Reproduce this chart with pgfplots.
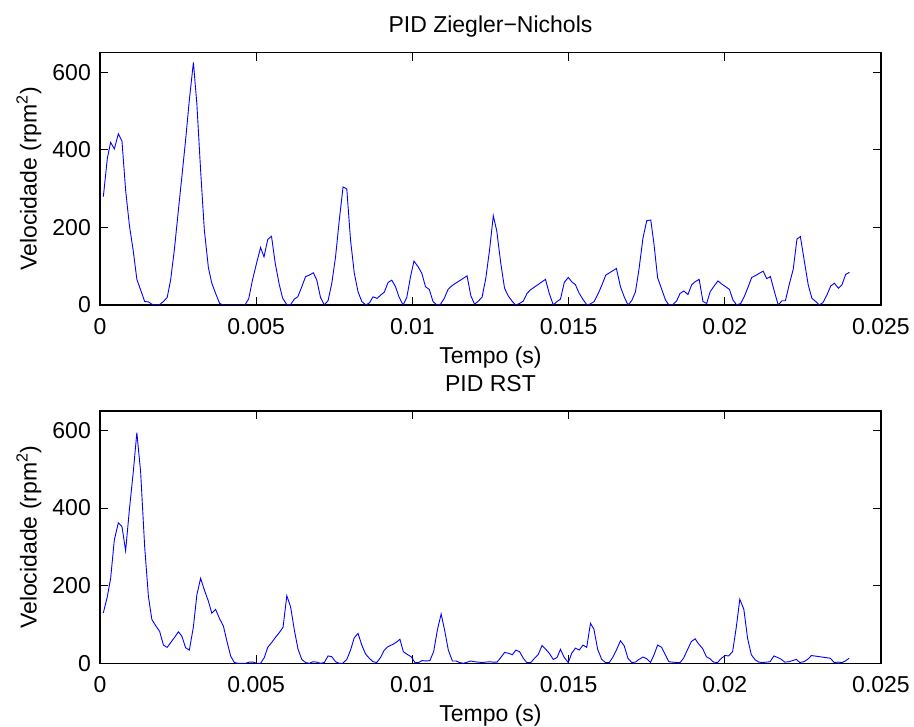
\documentclass[border=0pt]{standalone}
\usepackage{pgfplots}
\pgfplotsset{compat=1.18}
\usepackage{fontspec}
\setmainfont{Liberation Sans}
\newcommand{\bigf}{\fontsize{23}{27}\selectfont}
\pgfplotsset{
  mystyle/.style={
    scale only axis,
    width=781pt, height=252.3pt,
    xmin=0, xmax=0.025, ymin=0, ymax=650,
    scaled x ticks=false, scaled y ticks=false,
    xtick={0,0.005,0.01,0.015,0.02,0.025},
    xticklabels={0,0.005,0.01,0.015,0.02,0.025},
    ytick={0,200,400,600},
    yticklabels={0,200,400,600},
    tick align=inside,
    major tick length=8pt,
    tick style={black, line width=0.9pt},
    axis line style={black, line width=1.1pt},
    every tick label/.append style={font=\bigf, inner sep=0pt},
    xticklabel style={anchor=north, yshift=-13pt},
    yticklabel style={anchor=east, xshift=-9pt},
    /pgf/number format/assume math mode=true,
    every axis x label/.style={at={(axis description cs:0.5,0)}, anchor=base, yshift=-58.3pt, font=\bigf},
    every axis y label/.style={at={(axis description cs:-0.091,0.5)}, anchor=center, rotate=90, font=\bigf},
    every axis title/.style={at={(axis description cs:0.5,1)}, anchor=base, yshift=19.7pt, font=\bigf},
    xlabel={Tempo (s)},
    ylabel={Velocidade (rpm\textsuperscript{2})},
  }
}
\begin{document}
\begin{tikzpicture}[x=1pt,y=1pt]
\useasboundingbox (0,0) rectangle (914,727);
\begin{axis}[mystyle, at={(100pt,422pt)}, anchor=south west, title={PID Ziegler\textminus Nichols}]
\addplot[blue, line width=0.9pt] coordinates {
(0.000107,279) (0.000235,378) (0.000341,419) (0.000459,402) (0.000587,441) (0.000704,422)
(0.00082,296) (0.00094,206) (0.00106,142) (0.00118,66) (0.0013,39) (0.00143,9)
(0.00155,8) (0.00166,2) (0.00179,0) (0.00191,1) (0.00203,9) (0.00215,19)
(0.00226,64) (0.00238,142) (0.00251,245) (0.00262,330) (0.00274,425) (0.00286,528)
(0.00299,625) (0.00310,519) (0.00322,348) (0.00334,193) (0.00347,96) (0.00358,56)
(0.00370,30) (0.00383,4) (0.00395,0) (0.00464,0) (0.00476,16) (0.00488,64)
(0.00501,107) (0.00514,148) (0.00525,124) (0.00537,169) (0.00549,177) (0.00561,107)
(0.00574,52) (0.00585,17) (0.00598,1) (0.00610,1) (0.00622,15) (0.00633,21)
(0.00645,45) (0.00658,73) (0.0067,77) (0.00683,83) (0.00694,64) (0.00706,19)
(0.00718,0) (0.0073,11) (0.00742,56) (0.00754,124) (0.00766,219) (0.00778,304)
(0.0079,299) (0.00802,167) (0.00814,82) (0.00826,34) (0.00838,9) (0.00851,0)
(0.00863,6) (0.00874,21) (0.00887,17) (0.00899,26) (0.00910,33) (0.00922,58)
(0.00934,64) (0.00946,47) (0.00957,21) (0.0097,0) (0.00982,19) (0.00994,73)
(0.01005,113) (0.01018,99) (0.0103,82) (0.01042,47) (0.01054,40) (0.01066,9)
(0.01078,0) (0.0109,2) (0.01102,17) (0.01114,40) (0.01127,50) (0.01175,75)
(0.01187,24) (0.01199,2) (0.01211,10) (0.01223,20) (0.01235,69) (0.01247,142)
(0.01259,230) (0.01270,191) (0.01283,107) (0.01295,43) (0.01307,23) (0.0132,9)
(0.01331,0) (0.01343,4) (0.01355,10) (0.01367,30) (0.01378,39) (0.01426,66)
(0.01438,30) (0.01451,0) (0.01463,9) (0.01474,15) (0.01486,58) (0.01499,71)
(0.01510,60) (0.01522,52) (0.01534,30) (0.01547,13) (0.01559,0) (0.0157,3)
(0.01582,9) (0.01595,30) (0.01607,52) (0.01619,77) (0.01631,83) (0.01653,94)
(0.01666,47) (0.01678,21) (0.0169,0) (0.01702,11) (0.01714,34) (0.01725,90)
(0.01738,172) (0.0175,217) (0.01763,219) (0.01773,159) (0.01785,70) (0.01797,43)
(0.01810,13) (0.01821,0) (0.01834,1) (0.01846,11) (0.01857,30) (0.01869,36)
(0.01882,27) (0.01894,52) (0.01905,60) (0.01918,66) (0.0193,9) (0.01942,4)
(0.01953,34) (0.01966,49) (0.01978,62) (0.0199,54) (0.02003,47) (0.02015,40)
(0.02026,13) (0.02038,0) (0.02051,4) (0.02062,21) (0.02074,45) (0.02086,71)
(0.02099,76) (0.02111,82) (0.02123,87) (0.02134,68) (0.02146,73) (0.02159,34)
(0.02171,0) (0.02183,11) (0.02194,11) (0.02206,52) (0.02219,92) (0.02231,170)
(0.02242,176) (0.02254,116) (0.02267,52) (0.02279,17) (0.02291,9) (0.02302,0)
(0.02314,6) (0.02327,26) (0.02339,49) (0.02351,56) (0.02364,43) (0.02375,52)
(0.02387,79) (0.02399,84)
};
\end{axis}
\begin{axis}[mystyle, at={(100pt,63.7pt)}, anchor=south west, title={PID RST}]
\addplot[blue, line width=0.9pt] coordinates {
(0.000107,130) (0.000235,172) (0.000341,219) (0.000459,318) (0.000587,362) (0.000704,352)
(0.00082,290) (0.00094,395) (0.00106,489) (0.00118,594) (0.0013,494) (0.00143,300)
(0.00155,172) (0.00166,113) (0.00179,96) (0.00191,82) (0.00203,47) (0.00215,41)
(0.00226,53) (0.00238,66) (0.00251,81) (0.00262,70) (0.00274,40) (0.00286,34)
(0.00299,94) (0.00310,176) (0.00322,219) (0.00334,189) (0.00347,160) (0.00358,129)
(0.0037,139) (0.00382,116) (0.00395,96) (0.00406,58) (0.00418,19) (0.0043,2)
(0.00442,0) (0.00466,0) (0.00478,3) (0.0049,3) (0.00502,0) (0.00514,0)
(0.00526,15) (0.00537,41) (0.0055,54) (0.00562,67) (0.00574,79) (0.00586,93)
(0.00598,174) (0.0061,146) (0.00622,86) (0.00634,36) (0.00646,10) (0.00658,2)
(0.0067,0) (0.00682,4) (0.00694,3) (0.00706,0) (0.00718,2) (0.0073,19)
(0.00742,17) (0.00754,4) (0.00766,0) (0.00777,0) (0.0079,10) (0.00802,34)
(0.00814,66) (0.00826,77) (0.00838,47) (0.0085,24) (0.00862,13) (0.00874,4)
(0.00886,2) (0.00898,15) (0.0091,34) (0.00922,43) (0.00938,49) (0.0095,55)
(0.0096,62) (0.00971,30) (0.00983,23) (0.00996,17) (0.01008,2) (0.0102,2)
(0.01031,7) (0.01044,6) (0.01056,7) (0.01068,30) (0.0108,86) (0.01092,127)
(0.01103,86) (0.01115,34) (0.01128,6) (0.0114,6) (0.01151,2) (0.01163,0)
(0.01176,3) (0.01187,6) (0.01199,4) (0.01211,3) (0.01223,2) (0.01235,3)
(0.01247,4) (0.01258,3) (0.01271,3) (0.01283,15) (0.01295,28) (0.01307,26)
(0.0132,22) (0.01331,34) (0.01343,30) (0.01355,13) (0.01366,2) (0.01379,2)
(0.01391,13) (0.01403,23) (0.01415,46) (0.01427,36) (0.01438,26) (0.01451,10)
(0.01463,15) (0.01474,36) (0.01486,15) (0.01499,2) (0.0151,26) (0.01522,39)
(0.01534,34) (0.01546,47) (0.01558,41) (0.0157,103) (0.01581,88) (0.01593,36)
(0.01606,10) (0.01618,2) (0.0163,2) (0.01641,15) (0.01653,34) (0.01666,58)
(0.01678,45) (0.0169,13) (0.01702,2) (0.01714,3) (0.01725,10) (0.01738,16)
(0.0175,12) (0.01762,2) (0.01773,21) (0.01785,47) (0.01798,41) (0.0181,21)
(0.01821,4) (0.01833,3) (0.01845,2) (0.01857,2) (0.01868,13) (0.0188,34)
(0.01893,56) (0.01905,63) (0.01916,50) (0.01929,38) (0.01941,17) (0.01952,12)
(0.01964,3) (0.01977,2) (0.01989,13) (0.02001,20) (0.02012,19) (0.02025,30)
(0.02037,94) (0.02048,165) (0.02061,139) (0.02073,64) (0.02085,22) (0.02097,9)
(0.02109,3) (0.02121,2) (0.02133,3) (0.02145,4) (0.02157,19) (0.02169,15)
(0.02181,10) (0.02192,3) (0.02205,4) (0.02217,7) (0.02229,10) (0.0224,2)
(0.02253,4) (0.02265,10) (0.02277,20) (0.02338,13) (0.0235,2) (0.02362,3)
(0.02375,2) (0.02386,6) (0.02398,13)
};
\end{axis}
\end{tikzpicture}
\end{document}
